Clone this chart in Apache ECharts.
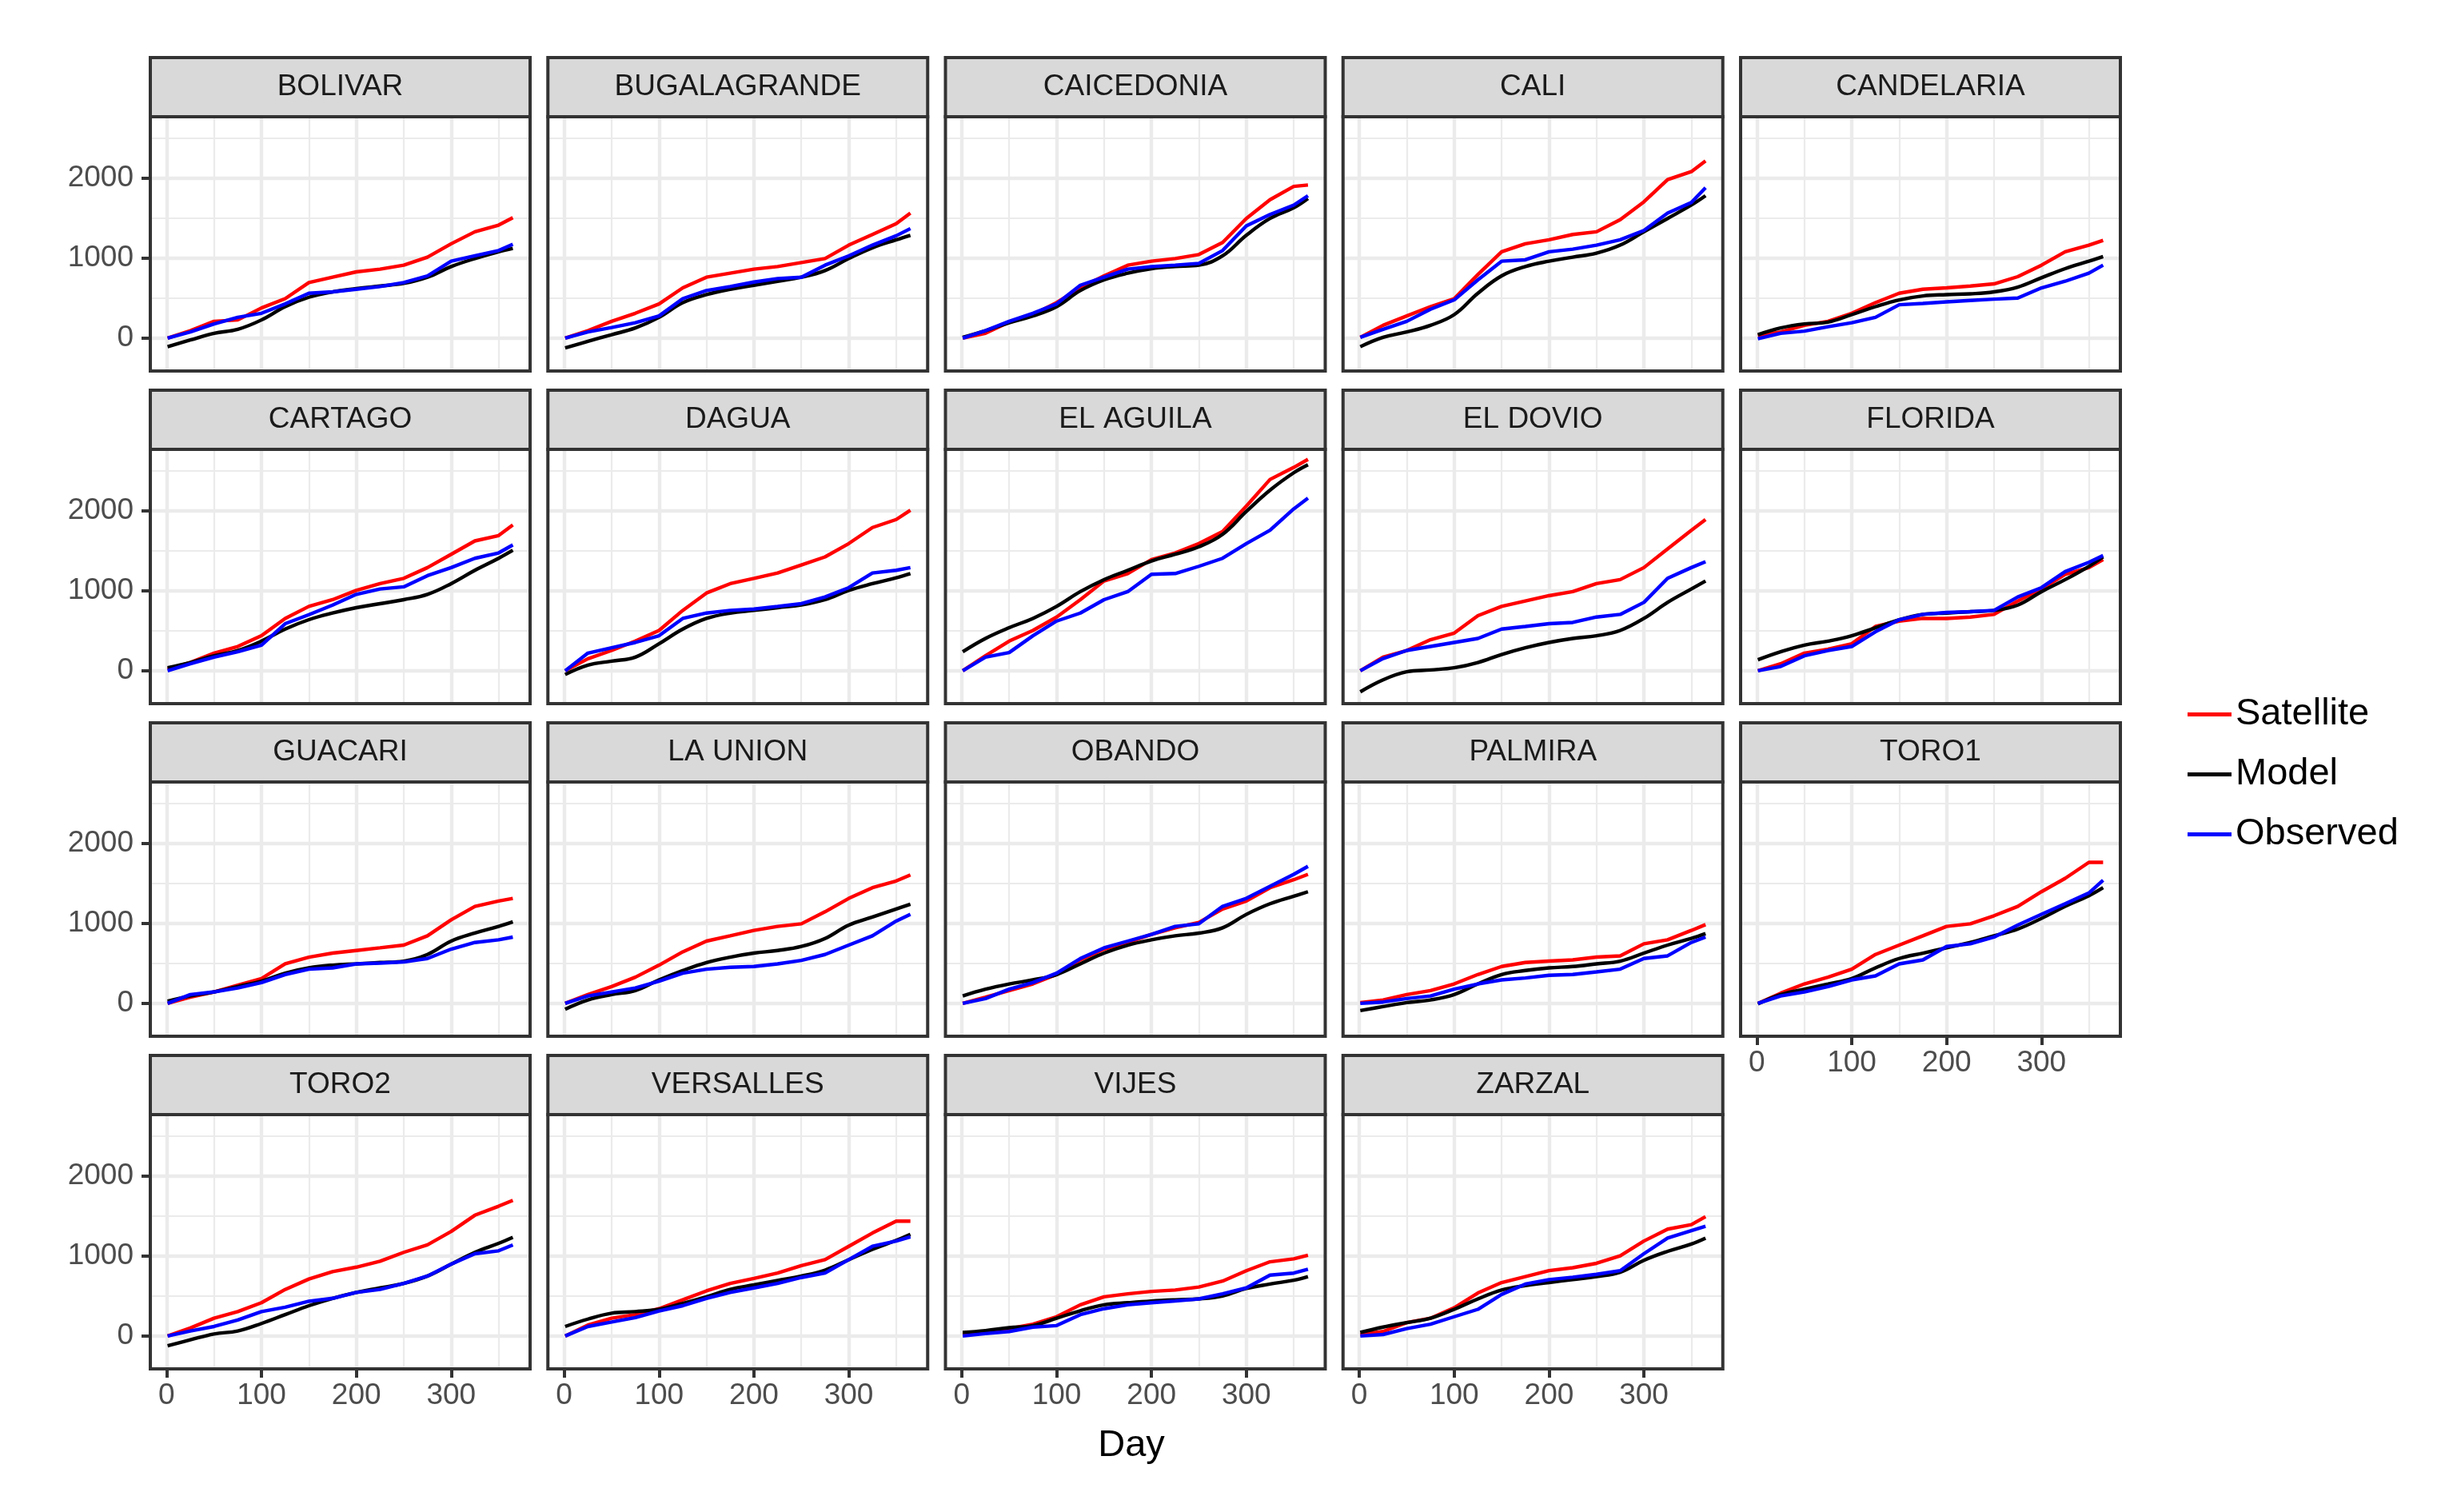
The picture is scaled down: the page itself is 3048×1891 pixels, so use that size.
<!DOCTYPE html>
<html>
<head>
<meta charset="utf-8">
<script src="https://cdn.jsdelivr.net/npm/echarts@6/dist/echarts.min.js"></script>
<style>
  html, body { margin: 0; background: #fff; }
  #chart { width: 3048px; height: 1891px; }
</style>
</head>
<body>
<div id="chart"></div>
<script>
// station facets, in panel order
const stations = ['BOLIVAR', 'BUGALAGRANDE', 'CAICEDONIA', 'CALI', 'CANDELARIA',
  'CARTAGO', 'DAGUA', 'EL AGUILA', 'EL DOVIO', 'FLORIDA',
  'GUACARI', 'LA UNION', 'OBANDO', 'PALMIRA', 'TORO1',
  'TORO2', 'VERSALLES', 'VIJES', 'ZARZAL'];

// sampled days of the year
const days = [1, 25, 50, 75, 100, 125, 150, 175, 200, 225, 250, 275, 300, 325, 350, 365];

// cumulative values, one row per station (same order as stations)
const satellite = [
  [0, 93, 210, 227, 377, 493, 693, 760, 827, 860, 910, 1010, 1177, 1327, 1410, 1503],   // BOLIVAR
  [0, 93, 210, 310, 427, 627, 760, 810, 860, 893, 943, 993, 1160, 1293, 1427, 1560],    // BUGALAGRANDE
  [0, 60, 200, 293, 443, 627, 777, 910, 960, 993, 1043, 1193, 1493, 1727, 1893, 1910],  // CAICEDONIA
  [10, 160, 277, 393, 493, 793, 1077, 1177, 1227, 1293, 1327, 1477, 1700, 1977, 2077, 2210], // CALI
  [33, 77, 160, 210, 310, 443, 560, 610, 627, 650, 677, 767, 910, 1077, 1160, 1220],   // CANDELARIA
  [20, 103, 220, 303, 437, 653, 803, 887, 1003, 1087, 1153, 1287, 1453, 1620, 1687, 1820], // CARTAGO
  [0, 150, 253, 370, 503, 753, 970, 1087, 1153, 1220, 1320, 1420, 1587, 1787, 1887, 2003], // DAGUA
  [0, 187, 370, 503, 670, 887, 1120, 1213, 1387, 1470, 1587, 1737, 2053, 2387, 2537, 2637], // EL AGUILA
  [0, 170, 253, 387, 470, 687, 803, 870, 937, 987, 1087, 1137, 1287, 1520, 1753, 1887], // EL DOVIO
  [0, 87, 220, 270, 337, 553, 620, 653, 653, 670, 703, 870, 1020, 1203, 1287, 1387],    // FLORIDA
  [0, 77, 143, 227, 310, 493, 577, 627, 660, 693, 727, 843, 1043, 1210, 1277, 1310],    // GUACARI
  [0, 110, 210, 327, 477, 643, 777, 843, 910, 960, 993, 1143, 1310, 1443, 1527, 1603],  // LA UNION
  [0, 77, 160, 243, 360, 543, 677, 760, 860, 943, 1010, 1177, 1277, 1443, 1543, 1610],  // OBANDO
  [10, 43, 110, 160, 243, 360, 460, 510, 527, 543, 577, 593, 743, 793, 910, 983],       // PALMIRA
  [0, 127, 243, 327, 427, 610, 727, 843, 960, 993, 1093, 1210, 1393, 1560, 1760, 1760], // TORO1
  [0, 100, 222, 304, 415, 581, 711, 804, 859, 933, 1044, 1137, 1304, 1507, 1619, 1693], // TORO2
  [0, 137, 222, 267, 341, 452, 563, 656, 719, 785, 878, 952, 1119, 1285, 1433, 1433],   // VERSALLES
  [19, 56, 93, 148, 241, 389, 489, 526, 556, 574, 611, 685, 815, 926, 963, 1007],       // VIJES
  [19, 56, 167, 222, 352, 537, 667, 741, 815, 852, 907, 1000, 1185, 1333, 1389, 1489]   // ZARZAL
];

const model = [
  [-107, -23, 60, 110, 227, 393, 510, 577, 617, 650, 683, 760, 893, 993, 1077, 1120],
  [-123, -40, 43, 127, 260, 443, 543, 610, 660, 710, 760, 843, 993, 1127, 1227, 1283],
  [10, 93, 193, 277, 393, 593, 727, 810, 867, 893, 910, 1027, 1283, 1493, 1627, 1743],
  [-107, 10, 77, 160, 293, 560, 777, 893, 960, 1010, 1060, 1160, 1327, 1493, 1660, 1777],
  [43, 127, 177, 200, 293, 393, 477, 527, 543, 553, 577, 637, 753, 867, 960, 1017],
  [37, 103, 187, 253, 370, 520, 637, 720, 787, 837, 887, 953, 1087, 1253, 1403, 1503],
  [-47, 70, 120, 170, 337, 520, 653, 720, 753, 787, 820, 887, 1003, 1087, 1160, 1213],
  [237, 403, 537, 653, 803, 987, 1137, 1253, 1370, 1453, 1547, 1703, 1987, 2253, 2470, 2570],
  [-263, -113, -13, 10, 37, 103, 203, 287, 353, 403, 437, 503, 653, 853, 1020, 1120],
  [137, 237, 320, 370, 437, 537, 637, 703, 720, 737, 753, 820, 987, 1137, 1303, 1420],
  [27, 93, 143, 210, 277, 377, 443, 477, 493, 510, 527, 610, 777, 877, 960, 1017],
  [-73, 43, 110, 160, 293, 410, 510, 577, 627, 660, 710, 810, 977, 1077, 1177, 1237],
  [93, 177, 243, 293, 360, 493, 627, 727, 793, 843, 877, 943, 1110, 1243, 1337, 1393],
  [-90, -40, 10, 43, 110, 243, 360, 410, 443, 460, 493, 527, 627, 727, 810, 870],
  [-7, 110, 177, 243, 310, 443, 560, 627, 693, 760, 843, 927, 1060, 1210, 1343, 1443],
  [-122, -48, 26, 63, 156, 267, 378, 470, 544, 600, 656, 748, 896, 1044, 1156, 1230],
  [119, 211, 285, 304, 333, 407, 489, 581, 637, 693, 748, 822, 952, 1081, 1193, 1267],
  [44, 67, 104, 130, 222, 315, 389, 415, 437, 452, 463, 500, 593, 648, 696, 741],
  [44, 111, 167, 222, 333, 463, 574, 630, 667, 704, 741, 796, 944, 1056, 1148, 1222]
];

const observed = [
  [0, 77, 177, 260, 310, 427, 560, 577, 610, 643, 693, 777, 960, 1027, 1093, 1170],
  [0, 77, 133, 193, 277, 493, 593, 643, 700, 743, 760, 910, 1027, 1160, 1277, 1367],
  [0, 93, 210, 310, 427, 660, 760, 860, 893, 910, 933, 1093, 1400, 1543, 1660, 1777],
  [10, 110, 210, 360, 477, 727, 960, 977, 1077, 1110, 1160, 1227, 1343, 1560, 1693, 1877],
  [-7, 60, 87, 143, 193, 260, 417, 433, 453, 470, 487, 500, 627, 710, 810, 910],
  [0, 87, 170, 237, 320, 587, 700, 820, 953, 1020, 1047, 1187, 1287, 1403, 1470, 1570],
  [0, 220, 287, 353, 437, 653, 720, 753, 770, 803, 837, 920, 1037, 1220, 1253, 1287],
  [0, 170, 227, 437, 620, 720, 887, 987, 1203, 1213, 1303, 1403, 1587, 1753, 2020, 2153],
  [0, 153, 253, 303, 353, 403, 520, 553, 587, 603, 670, 703, 853, 1153, 1287, 1360],
  [0, 53, 187, 253, 303, 487, 637, 703, 727, 737, 753, 920, 1037, 1237, 1353, 1437],
  [0, 110, 143, 193, 260, 360, 427, 443, 493, 503, 517, 560, 677, 760, 793, 827],
  [0, 93, 143, 193, 277, 377, 427, 450, 460, 493, 537, 610, 727, 843, 1027, 1110],
  [0, 60, 177, 260, 377, 560, 693, 777, 860, 960, 993, 1210, 1310, 1460, 1610, 1710],
  [0, 17, 60, 93, 177, 243, 293, 317, 350, 360, 393, 427, 560, 593, 760, 827],
  [0, 93, 143, 210, 293, 343, 493, 543, 710, 743, 827, 977, 1110, 1243, 1377, 1537],
  [0, 63, 119, 200, 304, 359, 433, 470, 544, 581, 656, 748, 896, 1026, 1063, 1137],
  [0, 119, 174, 230, 311, 378, 470, 544, 600, 656, 730, 785, 952, 1119, 1185, 1237],
  [0, 30, 56, 111, 130, 267, 341, 389, 415, 437, 463, 526, 600, 759, 785, 833],
  [0, 19, 93, 148, 241, 333, 519, 648, 704, 733, 770, 815, 1026, 1222, 1315, 1370]
];

const xTicks = [0, 100, 200, 300];
const yTicks = [0, 1000, 2000];
const seriesNames = ['Satellite', 'Model', 'Observed'];
const seriesColors = ['#FF0000', '#000000', '#0000FF'];

// panel layout (px)
const PANEL_LEFT = 188, COL_STEP = 497.25, PANEL_W = 475;
const STRIP_TOP = 72, STRIP_H = 74, ROW_STEP = 416, PANEL_H = 318;
const X_MIN = -17.2, X_MAX = 383.2, Y_MIN = -410, Y_MAX = 2762;
const FONT = 'Liberation Sans';

const grids = [], xAxes = [], yAxes = [], series = [], graphics = [];

stations.forEach((name, i) => {
  const col = i % 5, row = Math.floor(i / 5);
  const left = PANEL_LEFT + col * COL_STEP;
  const stripTop = STRIP_TOP + row * ROW_STEP;
  const top = stripTop + STRIP_H;
  const showX = i + 5 >= stations.length;
  const showY = col === 0;

  grids.push({ left: left, top: top, width: PANEL_W, height: PANEL_H, show: false });

  xAxes.push({
    type: 'value', gridIndex: i, min: X_MIN, max: X_MAX, splitNumber: 4, position: 'bottom',
    axisLine: { show: false, onZero: false },
    axisTick: { show: showX, length: 11, lineStyle: { color: '#333333', width: 4 }, customValues: xTicks },
    axisLabel: { show: showX, customValues: xTicks, formatter: v => String(v),
      margin: 15, fontSize: 37, color: '#4D4D4D', fontFamily: FONT },
    splitLine: { show: true, lineStyle: { color: '#EBEBEB', width: 4.4 } },
    minorTick: { show: false, splitNumber: 2 },
    minorSplitLine: { show: true, lineStyle: { color: '#EBEBEB', width: 2.2 } }
  });

  yAxes.push({
    type: 'value', gridIndex: i, min: Y_MIN, max: Y_MAX, splitNumber: 3, position: 'left',
    axisLine: { show: false, onZero: false },
    axisTick: { show: showY, length: 11, lineStyle: { color: '#333333', width: 4 }, customValues: yTicks },
    axisLabel: { show: showY, customValues: yTicks, formatter: v => String(v),
      margin: 21, fontSize: 37, color: '#4D4D4D', fontFamily: FONT },
    splitLine: { show: true, lineStyle: { color: '#EBEBEB', width: 4.4 } },
    minorTick: { show: false, splitNumber: 2 },
    minorSplitLine: { show: true, lineStyle: { color: '#EBEBEB', width: 2.2 } }
  });

  [satellite[i], model[i], observed[i]].forEach((vals, k) => {
    series.push({
      name: seriesNames[k], type: 'line', xAxisIndex: i, yAxisIndex: i,
      data: days.map((d, j) => [d, vals[j]]),
      showSymbol: false, smooth: k === 1 ? 0.4 : false,
      itemStyle: { color: seriesColors[k] },
      lineStyle: { color: seriesColors[k], width: 4.4 },
      emphasis: { disabled: true }
    });
  });

  // facet strip
  graphics.push({
    type: 'rect', z: 100,
    shape: { x: left, y: stripTop, width: PANEL_W, height: STRIP_H },
    style: { fill: '#D9D9D9', stroke: '#333333', lineWidth: 4 }
  });
  graphics.push({
    type: 'text', z: 101,
    style: { text: name, x: left + PANEL_W / 2, y: stripTop + STRIP_H / 2,
      textAlign: 'center', textVerticalAlign: 'middle', align: 'center', verticalAlign: 'middle',
      font: '37px "' + FONT + '"', fill: '#1A1A1A' }
  });
  // panel border
  graphics.push({
    type: 'rect', z: 100,
    shape: { x: left, y: top, width: PANEL_W, height: PANEL_H },
    style: { fill: null, stroke: '#333333', lineWidth: 4 }
  });
});

graphics.push({
  type: 'text', z: 101,
  style: { text: 'Day', x: 1415, y: 1808, textAlign: 'center', textVerticalAlign: 'middle',
    align: 'center', verticalAlign: 'middle', font: '47px "' + FONT + '"', fill: '#000000' }
});

const chart = echarts.init(document.getElementById('chart'), null, { renderer: 'canvas', width: 3048, height: 1891 });
chart.setOption({
  animation: false,
  backgroundColor: '#FFFFFF',
  textStyle: { fontFamily: FONT },
  grid: grids,
  xAxis: xAxes,
  yAxis: yAxes,
  legend: {
    data: seriesNames, orient: 'vertical', left: 2731, top: 865,
    icon: 'rect', itemWidth: 55, itemHeight: 5, itemGap: 28, selectedMode: false,
    textStyle: { fontSize: 47, lineHeight: 47, color: '#000000', fontFamily: FONT }
  },
  series: series,
  graphic: graphics
});
</script>
</body>
</html>
